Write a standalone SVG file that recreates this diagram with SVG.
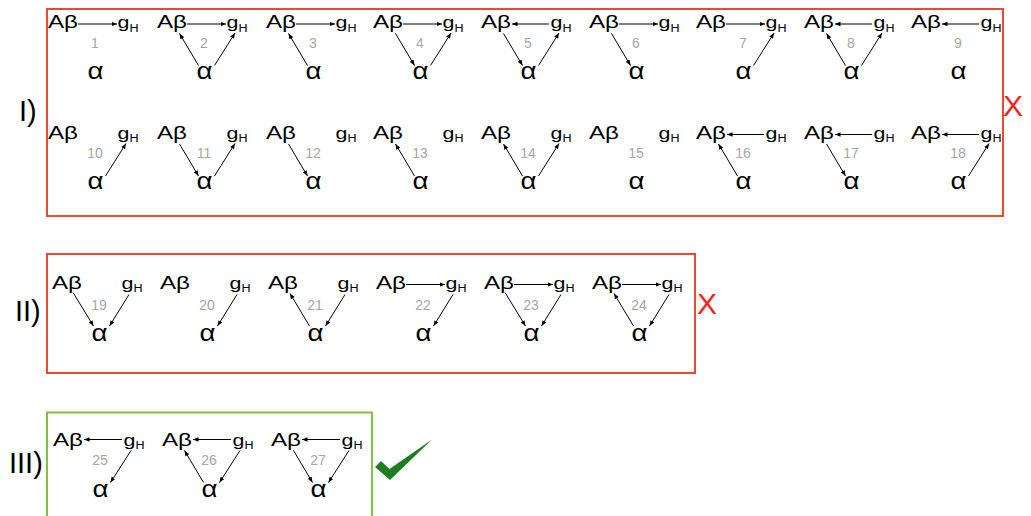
<svg xmlns="http://www.w3.org/2000/svg" width="1031" height="516" viewBox="0 0 1031 516">
<style>
text{font-family:"Liberation Sans",Arial,sans-serif;fill:#000}
.ab{font-size:18.5px}
.g{font-size:17px}
.sub{font-size:10px}
.al{font-size:23px}
.n{font-size:14px;fill:#a6a6a6;text-anchor:middle}
.lbl{font-size:29px}
.x{font-size:30px;fill:#f5231b}
.boxr{fill:none;stroke:#ea4a2f;stroke-width:2}
.boxg{fill:none;stroke:#80c342;stroke-width:2}
.e line{stroke:#000;stroke-width:1;marker-end:url(#ah)}
</style>
<defs>
<marker id="ah" markerUnits="userSpaceOnUse" markerWidth="6" markerHeight="5" refX="5.5" refY="2.25" orient="auto">
<path d="M0,0 L5.5,2.25 L0,4.5 z" fill="#000"/>
</marker>
</defs>
<rect id="box-I" class="boxr" x="47" y="9" width="956" height="207"/>
<rect id="box-II" class="boxr" x="47" y="254" width="648" height="119"/>
<rect id="box-III" class="boxg" x="47" y="412.5" width="325" height="110"/>
<text class="lbl" x="19" y="121">I)</text>
<text class="lbl" x="15" y="320.5">II)</text>
<text class="lbl" x="9" y="473">III)</text>
<text class="x" x="1003" y="116">X</text>
<text class="x" x="697" y="314">X</text>
<polygon id="check" points="375,467 381,461 389.5,469 432,439.5 390,480" fill="#1e7d1e"/>

<!-- Group I row 1 -->
<g id="m1" transform="translate(48,28)"><text class="ab" x="0" y="0" textLength="30" lengthAdjust="spacingAndGlyphs">Aβ</text><text class="g" x="69.5" y="0" textLength="21" lengthAdjust="spacingAndGlyphs">g<tspan class="sub" dy="3.5">H</tspan></text><text class="n" x="47" y="19.5">1</text><text class="al" x="39.5" y="51" textLength="16" lengthAdjust="spacingAndGlyphs">α</text>
<g class="e"><line x1="30" y1="-4" x2="69" y2="-4"/></g></g>
<g id="m2" transform="translate(157,28)"><text class="ab" x="0" y="0" textLength="30" lengthAdjust="spacingAndGlyphs">Aβ</text><text class="g" x="69.5" y="0" textLength="21" lengthAdjust="spacingAndGlyphs">g<tspan class="sub" dy="3.5">H</tspan></text><text class="n" x="47" y="19.5">2</text><text class="al" x="39.5" y="51" textLength="16" lengthAdjust="spacingAndGlyphs">α</text>
<g class="e"><line x1="30" y1="-4" x2="69" y2="-4"/><line x1="41.5" y1="37.5" x2="22.5" y2="5.5"/><line x1="57.5" y1="37.5" x2="78" y2="5"/></g></g>
<g id="m3" transform="translate(266,28)"><text class="ab" x="0" y="0" textLength="30" lengthAdjust="spacingAndGlyphs">Aβ</text><text class="g" x="69.5" y="0" textLength="21" lengthAdjust="spacingAndGlyphs">g<tspan class="sub" dy="3.5">H</tspan></text><text class="n" x="47" y="19.5">3</text><text class="al" x="39.5" y="51" textLength="16" lengthAdjust="spacingAndGlyphs">α</text>
<g class="e"><line x1="30" y1="-4" x2="69" y2="-4"/><line x1="41.5" y1="37.5" x2="22.5" y2="5.5"/></g></g>
<g id="m4" transform="translate(373,28)"><text class="ab" x="0" y="0" textLength="30" lengthAdjust="spacingAndGlyphs">Aβ</text><text class="g" x="69.5" y="0" textLength="21" lengthAdjust="spacingAndGlyphs">g<tspan class="sub" dy="3.5">H</tspan></text><text class="n" x="47" y="19.5">4</text><text class="al" x="39.5" y="51" textLength="16" lengthAdjust="spacingAndGlyphs">α</text>
<g class="e"><line x1="30" y1="-4" x2="69" y2="-4"/><line x1="22.5" y1="5.5" x2="41.5" y2="37.5"/><line x1="57.5" y1="37.5" x2="78" y2="5"/></g></g>
<g id="m5" transform="translate(481,28)"><text class="ab" x="0" y="0" textLength="30" lengthAdjust="spacingAndGlyphs">Aβ</text><text class="g" x="69.5" y="0" textLength="21" lengthAdjust="spacingAndGlyphs">g<tspan class="sub" dy="3.5">H</tspan></text><text class="n" x="47" y="19.5">5</text><text class="al" x="39.5" y="51" textLength="16" lengthAdjust="spacingAndGlyphs">α</text>
<g class="e"><line x1="68" y1="-4" x2="31" y2="-4"/><line x1="22.5" y1="5.5" x2="41.5" y2="37.5"/><line x1="57.5" y1="37.5" x2="78" y2="5"/></g></g>
<g id="m6" transform="translate(589,28)"><text class="ab" x="0" y="0" textLength="30" lengthAdjust="spacingAndGlyphs">Aβ</text><text class="g" x="69.5" y="0" textLength="21" lengthAdjust="spacingAndGlyphs">g<tspan class="sub" dy="3.5">H</tspan></text><text class="n" x="47" y="19.5">6</text><text class="al" x="39.5" y="51" textLength="16" lengthAdjust="spacingAndGlyphs">α</text>
<g class="e"><line x1="30" y1="-4" x2="69" y2="-4"/><line x1="22.5" y1="5.5" x2="41.5" y2="37.5"/></g></g>
<g id="m7" transform="translate(696,28)"><text class="ab" x="0" y="0" textLength="30" lengthAdjust="spacingAndGlyphs">Aβ</text><text class="g" x="69.5" y="0" textLength="21" lengthAdjust="spacingAndGlyphs">g<tspan class="sub" dy="3.5">H</tspan></text><text class="n" x="47" y="19.5">7</text><text class="al" x="39.5" y="51" textLength="16" lengthAdjust="spacingAndGlyphs">α</text>
<g class="e"><line x1="30" y1="-4" x2="69" y2="-4"/><line x1="57.5" y1="37.5" x2="78" y2="5"/></g></g>
<g id="m8" transform="translate(804,28)"><text class="ab" x="0" y="0" textLength="30" lengthAdjust="spacingAndGlyphs">Aβ</text><text class="g" x="69.5" y="0" textLength="21" lengthAdjust="spacingAndGlyphs">g<tspan class="sub" dy="3.5">H</tspan></text><text class="n" x="47" y="19.5">8</text><text class="al" x="39.5" y="51" textLength="16" lengthAdjust="spacingAndGlyphs">α</text>
<g class="e"><line x1="68" y1="-4" x2="31" y2="-4"/><line x1="41.5" y1="37.5" x2="22.5" y2="5.5"/><line x1="57.5" y1="37.5" x2="78" y2="5"/></g></g>
<g id="m9" transform="translate(911,28)"><text class="ab" x="0" y="0" textLength="30" lengthAdjust="spacingAndGlyphs">Aβ</text><text class="g" x="69.5" y="0" textLength="21" lengthAdjust="spacingAndGlyphs">g<tspan class="sub" dy="3.5">H</tspan></text><text class="n" x="47" y="19.5">9</text><text class="al" x="39.5" y="51" textLength="16" lengthAdjust="spacingAndGlyphs">α</text>
<g class="e"><line x1="68" y1="-4" x2="31" y2="-4"/></g></g>

<!-- Group I row 2 -->
<g id="m10" transform="translate(48,138.5)"><text class="ab" x="0" y="0" textLength="30" lengthAdjust="spacingAndGlyphs">Aβ</text><text class="g" x="69.5" y="0" textLength="21" lengthAdjust="spacingAndGlyphs">g<tspan class="sub" dy="3.5">H</tspan></text><text class="n" x="47" y="19.5">10</text><text class="al" x="39.5" y="50.5" textLength="16" lengthAdjust="spacingAndGlyphs">α</text>
<g class="e"><line x1="57.5" y1="37.5" x2="78" y2="5"/></g></g>
<g id="m11" transform="translate(157,138.5)"><text class="ab" x="0" y="0" textLength="30" lengthAdjust="spacingAndGlyphs">Aβ</text><text class="g" x="69.5" y="0" textLength="21" lengthAdjust="spacingAndGlyphs">g<tspan class="sub" dy="3.5">H</tspan></text><text class="n" x="47" y="19.5">11</text><text class="al" x="39.5" y="50.5" textLength="16" lengthAdjust="spacingAndGlyphs">α</text>
<g class="e"><line x1="22.5" y1="5.5" x2="41.5" y2="37.5"/><line x1="57.5" y1="37.5" x2="78" y2="5"/></g></g>
<g id="m12" transform="translate(266,138.5)"><text class="ab" x="0" y="0" textLength="30" lengthAdjust="spacingAndGlyphs">Aβ</text><text class="g" x="69.5" y="0" textLength="21" lengthAdjust="spacingAndGlyphs">g<tspan class="sub" dy="3.5">H</tspan></text><text class="n" x="47" y="19.5">12</text><text class="al" x="39.5" y="50.5" textLength="16" lengthAdjust="spacingAndGlyphs">α</text>
<g class="e"><line x1="22.5" y1="5.5" x2="41.5" y2="37.5"/></g></g>
<g id="m13" transform="translate(373,138.5)"><text class="ab" x="0" y="0" textLength="30" lengthAdjust="spacingAndGlyphs">Aβ</text><text class="g" x="69.5" y="0" textLength="21" lengthAdjust="spacingAndGlyphs">g<tspan class="sub" dy="3.5">H</tspan></text><text class="n" x="47" y="19.5">13</text><text class="al" x="39.5" y="50.5" textLength="16" lengthAdjust="spacingAndGlyphs">α</text>
<g class="e"><line x1="41.5" y1="37.5" x2="22.5" y2="5.5"/></g></g>
<g id="m14" transform="translate(481,138.5)"><text class="ab" x="0" y="0" textLength="30" lengthAdjust="spacingAndGlyphs">Aβ</text><text class="g" x="69.5" y="0" textLength="21" lengthAdjust="spacingAndGlyphs">g<tspan class="sub" dy="3.5">H</tspan></text><text class="n" x="47" y="19.5">14</text><text class="al" x="39.5" y="50.5" textLength="16" lengthAdjust="spacingAndGlyphs">α</text>
<g class="e"><line x1="41.5" y1="37.5" x2="22.5" y2="5.5"/><line x1="57.5" y1="37.5" x2="78" y2="5"/></g></g>
<g id="m15" transform="translate(589,138.5)"><text class="ab" x="0" y="0" textLength="30" lengthAdjust="spacingAndGlyphs">Aβ</text><text class="g" x="69.5" y="0" textLength="21" lengthAdjust="spacingAndGlyphs">g<tspan class="sub" dy="3.5">H</tspan></text><text class="n" x="47" y="19.5">15</text><text class="al" x="39.5" y="50.5" textLength="16" lengthAdjust="spacingAndGlyphs">α</text>
<g class="e"></g></g>
<g id="m16" transform="translate(696,138.5)"><text class="ab" x="0" y="0" textLength="30" lengthAdjust="spacingAndGlyphs">Aβ</text><text class="g" x="69.5" y="0" textLength="21" lengthAdjust="spacingAndGlyphs">g<tspan class="sub" dy="3.5">H</tspan></text><text class="n" x="47" y="19.5">16</text><text class="al" x="39.5" y="50.5" textLength="16" lengthAdjust="spacingAndGlyphs">α</text>
<g class="e"><line x1="68" y1="-4" x2="31" y2="-4"/><line x1="41.5" y1="37.5" x2="22.5" y2="5.5"/></g></g>
<g id="m17" transform="translate(804,138.5)"><text class="ab" x="0" y="0" textLength="30" lengthAdjust="spacingAndGlyphs">Aβ</text><text class="g" x="69.5" y="0" textLength="21" lengthAdjust="spacingAndGlyphs">g<tspan class="sub" dy="3.5">H</tspan></text><text class="n" x="47" y="19.5">17</text><text class="al" x="39.5" y="50.5" textLength="16" lengthAdjust="spacingAndGlyphs">α</text>
<g class="e"><line x1="68" y1="-4" x2="31" y2="-4"/><line x1="22.5" y1="5.5" x2="41.5" y2="37.5"/></g></g>
<g id="m18" transform="translate(911,138.5)"><text class="ab" x="0" y="0" textLength="30" lengthAdjust="spacingAndGlyphs">Aβ</text><text class="g" x="69.5" y="0" textLength="21" lengthAdjust="spacingAndGlyphs">g<tspan class="sub" dy="3.5">H</tspan></text><text class="n" x="47" y="19.5">18</text><text class="al" x="39.5" y="50.5" textLength="16" lengthAdjust="spacingAndGlyphs">α</text>
<g class="e"><line x1="68" y1="-4" x2="31" y2="-4"/><line x1="57.5" y1="37.5" x2="78" y2="5"/></g></g>

<!-- Group II -->
<g id="m19" transform="translate(52,288.5)"><text class="ab" x="0" y="0" textLength="30" lengthAdjust="spacingAndGlyphs">Aβ</text><text class="g" x="69.5" y="0" textLength="21" lengthAdjust="spacingAndGlyphs">g<tspan class="sub" dy="3.5">H</tspan></text><text class="n" x="47" y="21">19</text><text class="al" x="39.5" y="52.5" textLength="16" lengthAdjust="spacingAndGlyphs">α</text>
<g class="e"><line x1="21" y1="4" x2="41.5" y2="37.5"/><line x1="77" y1="6" x2="57.5" y2="37.5"/></g></g>
<g id="m20" transform="translate(160,288.5)"><text class="ab" x="0" y="0" textLength="30" lengthAdjust="spacingAndGlyphs">Aβ</text><text class="g" x="69.5" y="0" textLength="21" lengthAdjust="spacingAndGlyphs">g<tspan class="sub" dy="3.5">H</tspan></text><text class="n" x="47" y="21">20</text><text class="al" x="39.5" y="52.5" textLength="16" lengthAdjust="spacingAndGlyphs">α</text>
<g class="e"><line x1="77" y1="6" x2="57.5" y2="37.5"/></g></g>
<g id="m21" transform="translate(268,288.5)"><text class="ab" x="0" y="0" textLength="30" lengthAdjust="spacingAndGlyphs">Aβ</text><text class="g" x="69.5" y="0" textLength="21" lengthAdjust="spacingAndGlyphs">g<tspan class="sub" dy="3.5">H</tspan></text><text class="n" x="47" y="21">21</text><text class="al" x="39.5" y="52.5" textLength="16" lengthAdjust="spacingAndGlyphs">α</text>
<g class="e"><line x1="41.5" y1="37.5" x2="22" y2="5"/><line x1="77" y1="6" x2="57.5" y2="37.5"/></g></g>
<g id="m22" transform="translate(376,288.5)"><text class="ab" x="0" y="0" textLength="30" lengthAdjust="spacingAndGlyphs">Aβ</text><text class="g" x="69.5" y="0" textLength="21" lengthAdjust="spacingAndGlyphs">g<tspan class="sub" dy="3.5">H</tspan></text><text class="n" x="47" y="21">22</text><text class="al" x="39.5" y="52.5" textLength="16" lengthAdjust="spacingAndGlyphs">α</text>
<g class="e"><line x1="30" y1="-4" x2="69" y2="-4"/><line x1="77" y1="6" x2="57.5" y2="37.5"/></g></g>
<g id="m23" transform="translate(484,288.5)"><text class="ab" x="0" y="0" textLength="30" lengthAdjust="spacingAndGlyphs">Aβ</text><text class="g" x="69.5" y="0" textLength="21" lengthAdjust="spacingAndGlyphs">g<tspan class="sub" dy="3.5">H</tspan></text><text class="n" x="47" y="21">23</text><text class="al" x="39.5" y="52.5" textLength="16" lengthAdjust="spacingAndGlyphs">α</text>
<g class="e"><line x1="30" y1="-4" x2="69" y2="-4"/><line x1="21" y1="4" x2="41.5" y2="37.5"/><line x1="77" y1="6" x2="57.5" y2="37.5"/></g></g>
<g id="m24" transform="translate(592,288.5)"><text class="ab" x="0" y="0" textLength="30" lengthAdjust="spacingAndGlyphs">Aβ</text><text class="g" x="69.5" y="0" textLength="21" lengthAdjust="spacingAndGlyphs">g<tspan class="sub" dy="3.5">H</tspan></text><text class="n" x="47" y="21">24</text><text class="al" x="39.5" y="52.5" textLength="16" lengthAdjust="spacingAndGlyphs">α</text>
<g class="e"><line x1="30" y1="-4" x2="69" y2="-4"/><line x1="41.5" y1="37.5" x2="22" y2="5"/><line x1="77" y1="6" x2="57.5" y2="37.5"/></g></g>

<!-- Group III -->
<g id="m25" transform="translate(53,445.5)"><text class="ab" x="0" y="0" textLength="30" lengthAdjust="spacingAndGlyphs">Aβ</text><text class="g" x="70.5" y="0" textLength="21" lengthAdjust="spacingAndGlyphs">g<tspan class="sub" dy="3.5">H</tspan></text><text class="n" x="47" y="19.5">25</text><text class="al" x="39.5" y="51" textLength="16" lengthAdjust="spacingAndGlyphs">α</text>
<g class="e"><line x1="69" y1="-6" x2="31" y2="-6"/><line x1="78" y1="5" x2="57.5" y2="37"/></g></g>
<g id="m26" transform="translate(162,445.5)"><text class="ab" x="0" y="0" textLength="30" lengthAdjust="spacingAndGlyphs">Aβ</text><text class="g" x="70.5" y="0" textLength="21" lengthAdjust="spacingAndGlyphs">g<tspan class="sub" dy="3.5">H</tspan></text><text class="n" x="47" y="19.5">26</text><text class="al" x="39.5" y="51" textLength="16" lengthAdjust="spacingAndGlyphs">α</text>
<g class="e"><line x1="69" y1="-6" x2="31" y2="-6"/><line x1="41.5" y1="37" x2="22.5" y2="5"/><line x1="78" y1="5" x2="57.5" y2="37"/></g></g>
<g id="m27" transform="translate(271,445.5)"><text class="ab" x="0" y="0" textLength="30" lengthAdjust="spacingAndGlyphs">Aβ</text><text class="g" x="70.5" y="0" textLength="21" lengthAdjust="spacingAndGlyphs">g<tspan class="sub" dy="3.5">H</tspan></text><text class="n" x="47" y="19.5">27</text><text class="al" x="39.5" y="51" textLength="16" lengthAdjust="spacingAndGlyphs">α</text>
<g class="e"><line x1="69" y1="-6" x2="31" y2="-6"/><line x1="22.5" y1="5" x2="41.5" y2="37"/><line x1="78" y1="5" x2="57.5" y2="37"/></g></g>
</svg>
